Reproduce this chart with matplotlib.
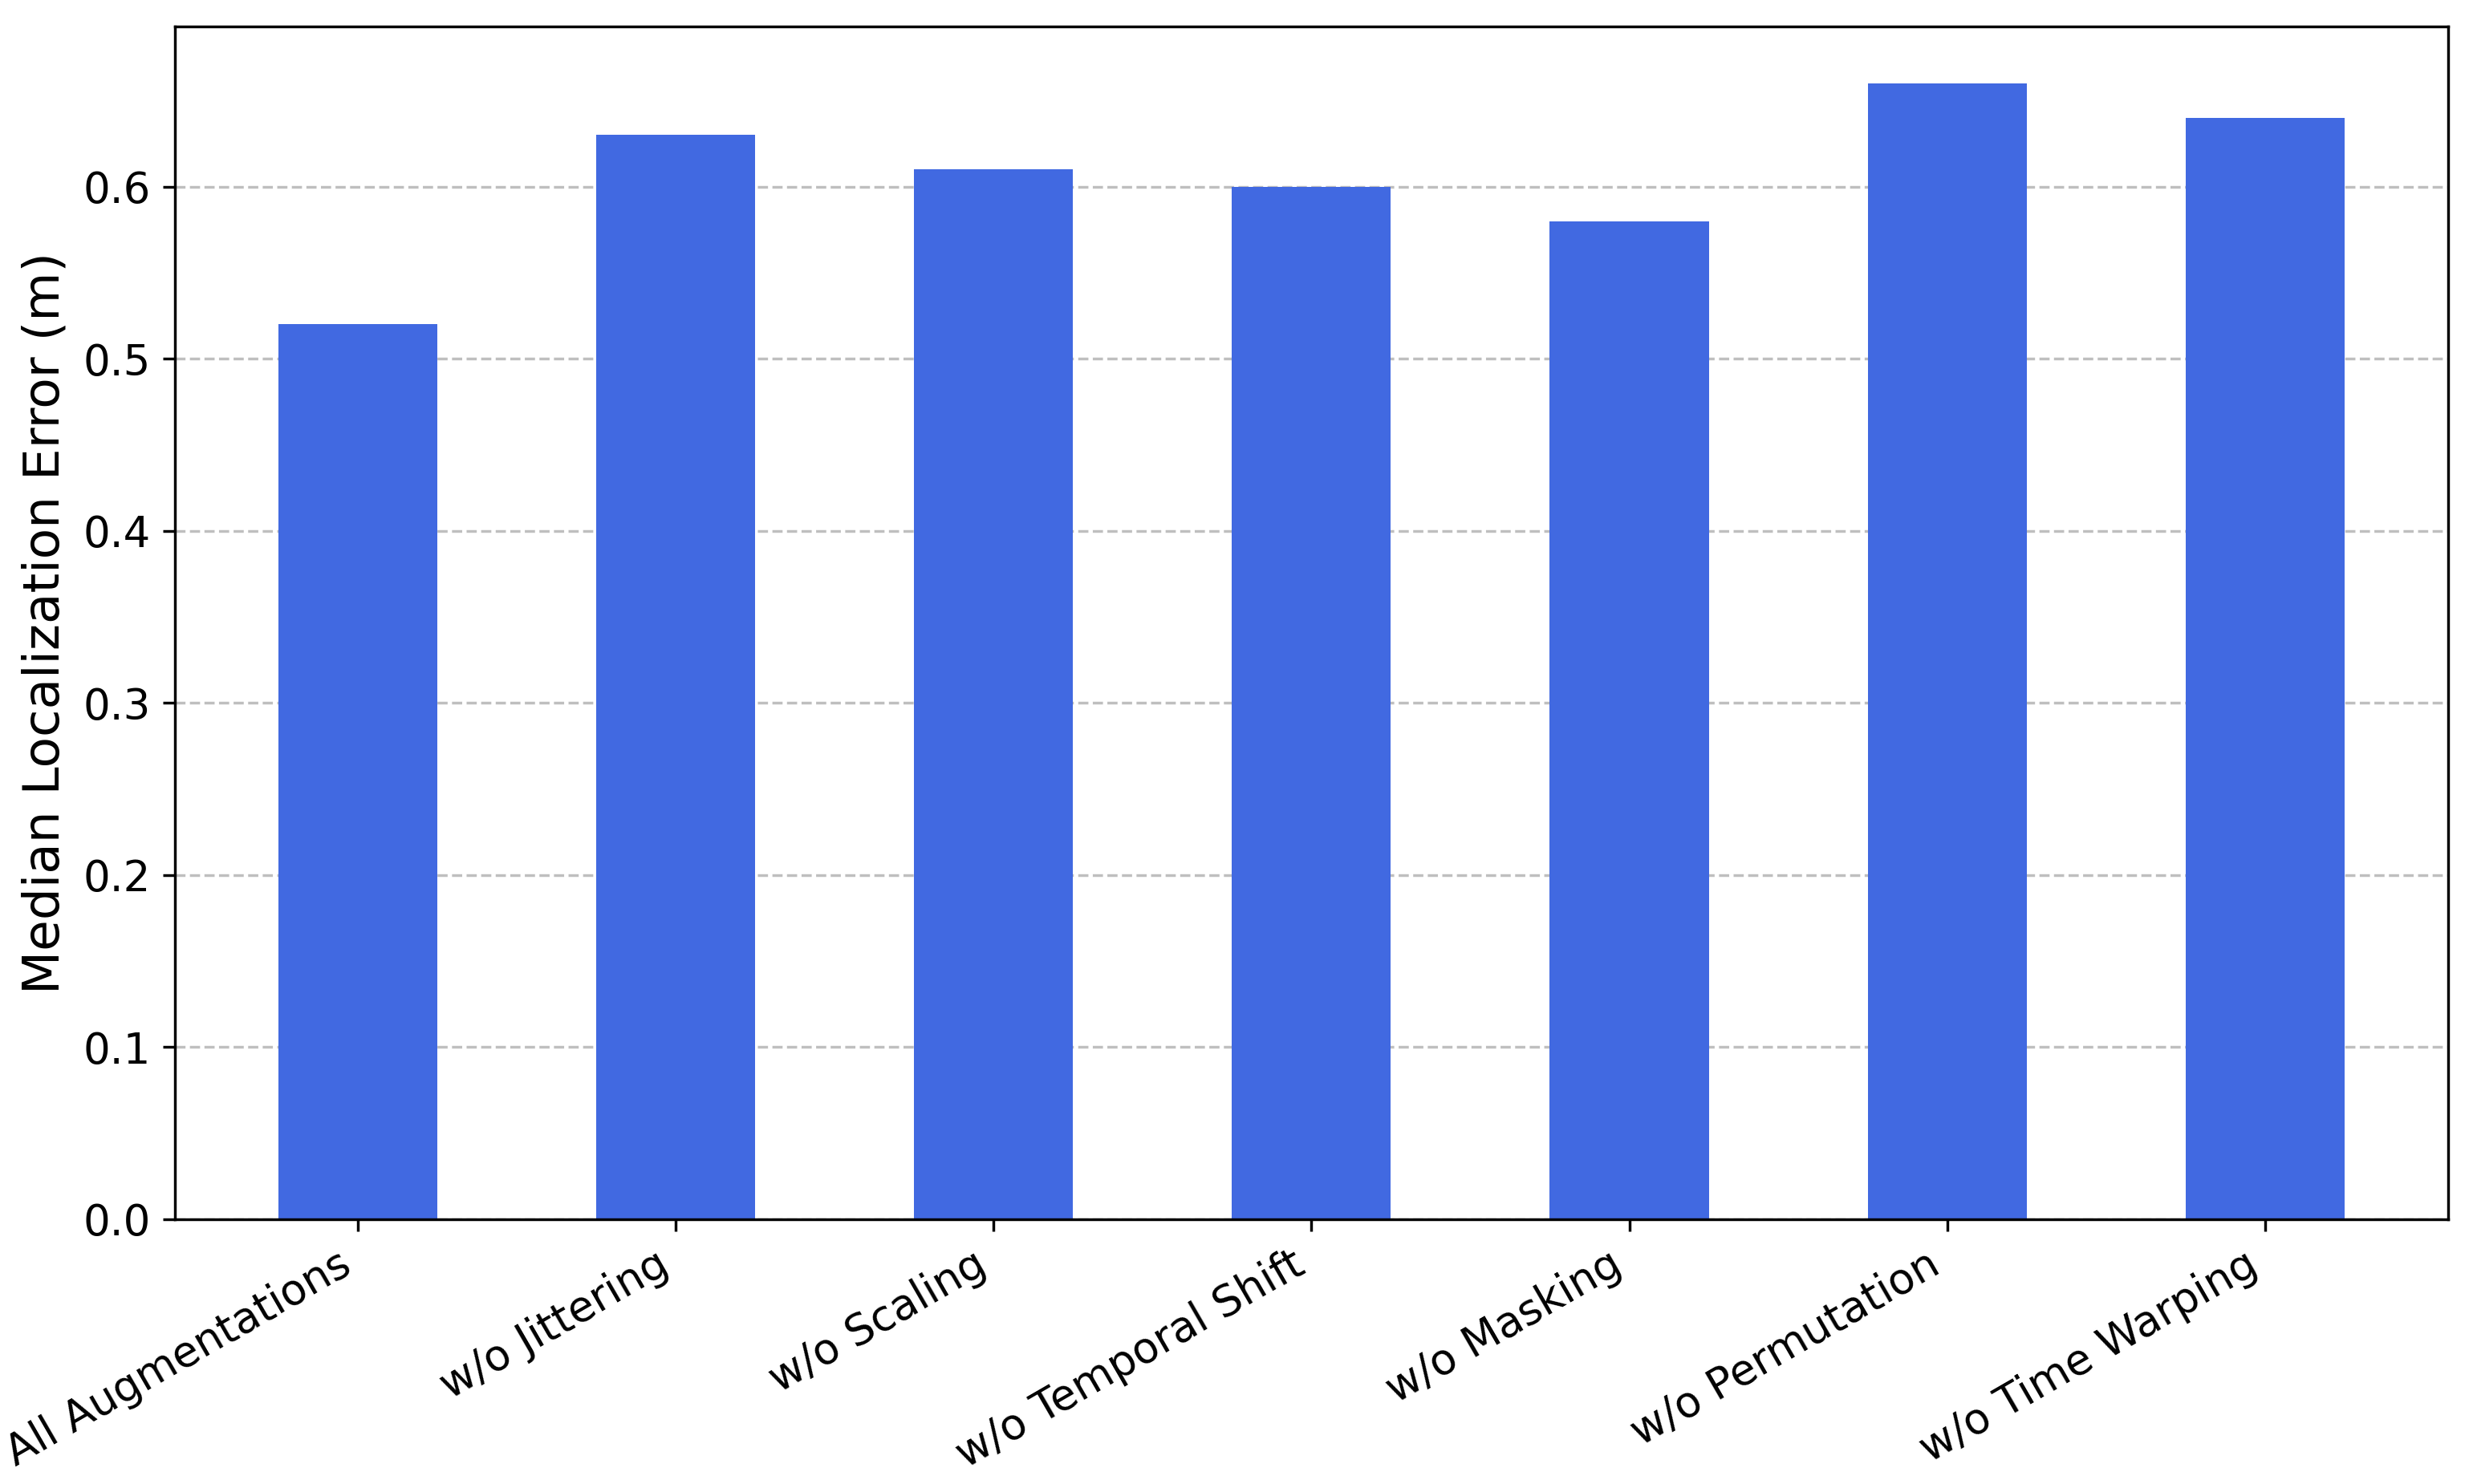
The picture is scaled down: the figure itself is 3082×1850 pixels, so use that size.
import matplotlib
matplotlib.use('Agg')
import matplotlib.pyplot as plt

# ablation results
variants = ['All Augmentations', 'w/o Jittering', 'w/o Scaling', 'w/o Temporal Shift',
            'w/o Masking', 'w/o Permutation', 'w/o Time Warping']
median_error = [0.52, 0.63, 0.61, 0.60, 0.58, 0.66, 0.64]

fig, ax = plt.subplots(figsize=(10, 1850 / 308.2), dpi=308.2)
fig.subplots_adjust(left=0.0708, right=0.9898, top=0.982, bottom=0.1785)

ax.bar(variants, median_error, width=0.5, color='royalblue', zorder=2)
ax.set_ylabel('Median Localization Error (m)', fontsize=14.7)
ax.tick_params(axis='both', labelsize=12.4)
plt.setp(ax.get_xticklabels(), rotation=30, ha='right')
ax.yaxis.grid(True, linestyle='--', color='gray', alpha=0.5, zorder=0)
ax.set_axisbelow(True)

fig.savefig('out.png', dpi=308.2)
